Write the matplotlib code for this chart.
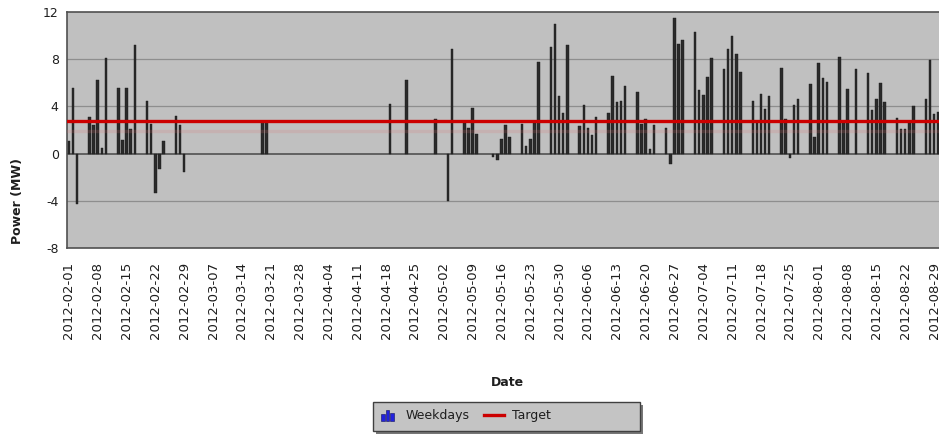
import matplotlib
matplotlib.use("Agg")
import matplotlib.pyplot as plt
import matplotlib.dates as mdates
import matplotlib.patches as mpatches
import matplotlib.patheffects as pe
from matplotlib.legend_handler import HandlerBase
from matplotlib.lines import Line2D
import numpy as np
import pandas as pd

# weekday power readings (MW)
dates = [
    "2012-02-01", "2012-02-02", "2012-02-03", "2012-02-06", "2012-02-07",
    "2012-02-08", "2012-02-09", "2012-02-10", "2012-02-13", "2012-02-14",
    "2012-02-15", "2012-02-16", "2012-02-17", "2012-02-20", "2012-02-21",
    "2012-02-22", "2012-02-23", "2012-02-24", "2012-02-27", "2012-02-28",
    "2012-02-29", "2012-03-19", "2012-03-20", "2012-04-19", "2012-04-23",
    "2012-04-30", "2012-05-03", "2012-05-04", "2012-05-07", "2012-05-08",
    "2012-05-09", "2012-05-10", "2012-05-14", "2012-05-15", "2012-05-16",
    "2012-05-17", "2012-05-18", "2012-05-21", "2012-05-22", "2012-05-23",
    "2012-05-24", "2012-05-25", "2012-05-28", "2012-05-29", "2012-05-30",
    "2012-05-31", "2012-06-01", "2012-06-04", "2012-06-05", "2012-06-06",
    "2012-06-07", "2012-06-08", "2012-06-11", "2012-06-12", "2012-06-13",
    "2012-06-14", "2012-06-15", "2012-06-18", "2012-06-19", "2012-06-20",
    "2012-06-21", "2012-06-22", "2012-06-25", "2012-06-26", "2012-06-27",
    "2012-06-28", "2012-06-29", "2012-07-02", "2012-07-03", "2012-07-04",
    "2012-07-05", "2012-07-06", "2012-07-09", "2012-07-10", "2012-07-11",
    "2012-07-12", "2012-07-13", "2012-07-16", "2012-07-17", "2012-07-18",
    "2012-07-19", "2012-07-20", "2012-07-23", "2012-07-24", "2012-07-25",
    "2012-07-26", "2012-07-27", "2012-07-30", "2012-07-31", "2012-08-01",
    "2012-08-02", "2012-08-03", "2012-08-06", "2012-08-07", "2012-08-08",
    "2012-08-10", "2012-08-13", "2012-08-14", "2012-08-15", "2012-08-16",
    "2012-08-17", "2012-08-20", "2012-08-21", "2012-08-22", "2012-08-23",
    "2012-08-24", "2012-08-27", "2012-08-28", "2012-08-29", "2012-08-30",
]
power = [
    1.1, 5.6, -4.3, 3.1, 2.4,
    6.2, 0.5, 8.1, 5.6, 1.15,
    5.6, 2.1, 9.2, 4.5, 2.55,
    -3.3, -1.3, 1.1, 3.2, 2.4,
    -1.6, 2.65, 2.65, 4.2, 6.2,
    2.9, -4.0, 8.85, 2.6, 2.2,
    3.9, 1.7, -0.25, -0.5, 1.25,
    2.4, 1.4, 2.5, 0.65, 1.2,
    2.6, 7.8, 9.0, 10.95, 4.9,
    3.4, 9.2, 2.35, 4.15, 2.15,
    1.6, 3.1, 3.45, 6.6, 4.4,
    4.5, 5.7, 5.2, 2.55, 2.95,
    0.4, 2.45, 2.2, -0.9, 11.5,
    9.3, 9.6, 10.3, 5.4, 5.0,
    6.45, 8.1, 7.15, 8.9, 10.0,
    8.4, 6.95, 4.45, 2.6, 5.05,
    3.75, 4.9, 7.25, 2.9, -0.35,
    4.1, 4.65, 5.9, 1.4, 7.7,
    6.4, 6.1, 8.15, 2.6, 5.5,
    7.2, 6.8, 3.7, 4.6, 6.0,
    4.4, 3.05, 2.05, 2.1, 2.6,
    4.0, 4.6, 7.95, 3.35, 3.5,
]
target = 2.75

tick_dates = pd.date_range("2012-02-01", "2012-08-29", freq="7D")
tick_labels = [d.strftime("%Y-%m-%d") for d in tick_dates]
y_ticks = [-8, -4, 0, 4, 8, 12]


class BarIcon(HandlerBase):
    # little blue bar-chart icon like the original legend
    def create_artists(self, legend, orig_handle, xdescent, ydescent,
                       width, height, fontsize, trans):
        hts = [0.75, 1.25, 0.85]
        w = width / 7.0
        out = []
        for i, hh in enumerate(hts):
            r = mpatches.Rectangle((-xdescent + 1.5 * w + i * 1.6 * w, -ydescent - 0.15 * height),
                                   1.2 * w, height * hh, facecolor="#2222dd",
                                   edgecolor="#101060", linewidth=0.4, transform=trans)
            out.append(r)
        return out


fig = plt.figure(figsize=(9.39, 4.34), dpi=100)
ax = fig.add_axes([67 / 939, 1 - 248 / 434, 1 - 67 / 939, 236 / 434])
ax.set_facecolor("#c0c0c0")

x = mdates.date2num(pd.to_datetime(dates))
x0 = mdates.date2num(pd.Timestamp("2012-02-01"))

for yv in [-4, 4, 8]:
    ax.axhline(yv, color="#8e8e8e", lw=0.9, zorder=1)
ax.axhline(0, color="#5a5a5a", lw=1.3, zorder=2)

ax.bar(x, power, width=0.6, color="#2a2a2a", edgecolor="#1a1a1a", linewidth=0.3, zorder=3)

ax.axhline(target, color="#cc0000", lw=2.4, zorder=4,
           path_effects=[pe.SimpleLineShadow(offset=(0, -7), shadow_color="#e07070", alpha=0.18),
                         pe.Normal()])

ax.set_xlim(x0 - 0.45, x0 + 211.2)
ax.set_ylim(-8, 12)
ax.set_yticks(y_ticks)
ax.set_yticklabels([str(v) for v in y_ticks])
ax.set_xticks(mdates.date2num(tick_dates))
ax.set_xticklabels(tick_labels, rotation=90, ha="center", va="top")
ax.tick_params(axis="both", length=0, labelsize=9, colors="#1e1e1e")
ax.tick_params(axis="x", pad=10, labelsize=9.5)
ax.tick_params(axis="y", pad=6)

for s in ["left", "top", "bottom"]:
    ax.spines[s].set_color("#505050")
    ax.spines[s].set_linewidth(1.2)
ax.spines["right"].set_visible(False)

fig.text(18 / 939, 1 - 201 / 434, "Power (MW)", rotation=90, ha="center", va="center",
         fontsize=9, fontweight="bold", color="#1e1e1e")
fig.text(507 / 939, 1 - 382 / 434, "Date", ha="center", va="center",
         fontsize=9, fontweight="bold", color="#1e1e1e")

# legend box with a drop shadow
shadow = mpatches.Rectangle((376 / 939, 1 - 434 / 434), 267 / 939, 29 / 434,
                            transform=fig.transFigure, facecolor="#777777",
                            edgecolor="none", zorder=1)
box = mpatches.Rectangle((373 / 939, 1 - 431 / 434), 267 / 939, 29 / 434,
                         transform=fig.transFigure, facecolor="#c4c4c4",
                         edgecolor="#404040", linewidth=1.0, zorder=2)
fig.add_artist(shadow)
fig.add_artist(box)

bar_handle = mpatches.Patch(color="#2222dd")
line_handle = Line2D([], [], color="#cc0000", lw=2.4)
leg = fig.legend([bar_handle, line_handle], ["Weekdays", "Target"],
                 handler_map={bar_handle: BarIcon()},
                 loc="center left", bbox_to_anchor=(377 / 939, 1 - 416 / 434),
                 ncol=2, frameon=False, fontsize=9, handlelength=1.6,
                 handletextpad=0.7, columnspacing=1.1, borderpad=0, borderaxespad=0)
leg.set_zorder(5)
for t in leg.get_texts():
    t.set_color("#1e1e1e")

fig.savefig("out.png", dpi=100)
